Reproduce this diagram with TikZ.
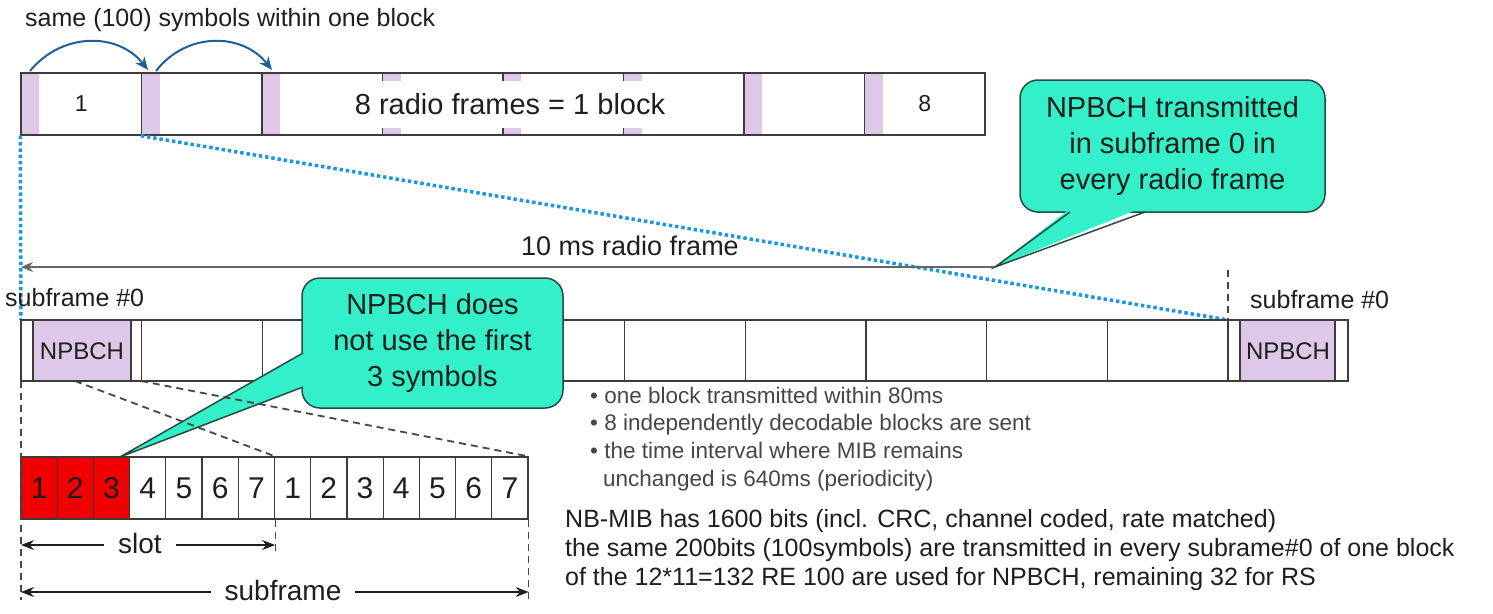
\documentclass[tikz,border=0pt]{standalone}
\usepackage{fontspec}
\setmainfont{Liberation Sans}
\usetikzlibrary{arrows.meta,calc}
\definecolor{lilac}{RGB}{221,200,232}
\definecolor{aqua}{RGB}{52,240,200}
\definecolor{callline}{RGB}{40,75,65}
\definecolor{dotblue}{RGB}{30,150,225}
\definecolor{arcblue}{RGB}{30,95,150}
\definecolor{ink}{RGB}{30,30,30}
\definecolor{softink}{RGB}{70,70,70}
\definecolor{frameline}{RGB}{60,60,60}
\definecolor{symred}{RGB}{240,0,0}
\tikzset{
  lbl/.style={text=ink, inner sep=0pt, font=\fontsize{25}{30}\selectfont},
  cellbox/.style={draw=frameline, line width=1.4pt, inner sep=0pt},
  divider/.style={draw=frameline, line width=1.3pt},
  callbox/.style={draw=callline, fill=aqua, rounded corners=18pt, line width=1.5pt,
    align=center, text=ink, inner sep=0pt, font=\fontsize{29}{36}\selectfont},
  callfill/.style={fill=aqua},
  calledge/.style={draw=callline, line width=1.5pt, line join=miter},
  dotline/.style={draw=dotblue, line width=3.5pt, dash pattern=on 3.5pt off 2.8pt},
  greydash/.style={draw=softink, line width=1.8pt, dash pattern=on 7pt off 5pt},
  arcarrow/.style={draw=arcblue, line width=2pt, -{Stealth[length=13pt,width=11pt]}},
  dimarrow/.style={draw=ink, line width=1.4pt, {Stealth[length=13pt,width=10pt]}-{Stealth[length=13pt,width=10pt]}},
  sym/.style={draw=frameline, line width=1.2pt, minimum width=36.214pt, minimum height=62pt,
    inner sep=0pt, text=ink, font=\fontsize{30}{34}\selectfont},
}
\begin{document}
\begin{tikzpicture}[x=1pt,y=-1pt]
\useasboundingbox (0,0) rectangle (1493,613);

% ---------- top block of 8 radio frames ----------
\node[lbl, anchor=west] (toplbl) at (25,20) {same (100) symbols within one block};
\foreach \k in {0,...,7} {
  \fill[lilac] ({21+120.5*\k},73) rectangle ++(18,62);
}
\foreach \k in {0,...,7} {
  \node[cellbox, minimum width=120.5pt, minimum height=62pt] (f\k) at ({21+120.5*\k+60.25},104) {};
}
\node[fill=white, minimum width=345pt, minimum height=47pt, inner sep=0pt, text=ink,
  font=\fontsize{29}{34}\selectfont] (blk) at (510,104) {8 radio frames = 1 block};
\node[lbl, font=\fontsize{23}{26}\selectfont] (one) at (f0) {1};
\node[lbl, font=\fontsize{23}{26}\selectfont] (eight) at (f7) {8};

\coordinate (a1) at (30,71);
\coordinate (a2) at (148,70);
\coordinate (a3) at (156,71);
\coordinate (a4) at (272,70);
\draw[arcarrow] (a1) .. controls (62,32) and (118,32) .. (a2);
\draw[arcarrow] (a3) .. controls (186,32) and (242,32) .. (a4);

% ---------- zoom lines ----------
\coordinate (r0) at (21,320);
\coordinate (r10) at (1228,320);
\draw[dotline] (f0.south west) -- (r0);
\draw[dotline] (f1.south west) -- (r10);

% ---------- 10 ms radio frame ----------
\coordinate (t1) at (995,267);
\coordinate (t0) at (21,267);
\draw[draw=gray!80!black, line width=1.8pt, -{Stealth[length=12pt,width=10pt]}] (t1) -- (t0);
\node[lbl, font=\fontsize{27}{32}\selectfont] (tenms) at (630,246) {10 ms radio frame};
\coordinate (e0) at (1228,270);
\draw[greydash, line width=1.2pt] (e0) -- (r10);

% ---------- row of subframes ----------
\fill[lilac] (33,320) rectangle (131,381);
\fill[lilac] (1240,320) rectangle (1335,381);
\draw[cellbox] (21,320) rectangle (1348,381);
\foreach \k in {1,...,10} {
  \draw[divider] ({21+120.7*\k},320) -- ++(0,61);
}
\foreach \xx in {33,131,1240,1335} {
  \draw[divider] (\xx,320) -- ++(0,61);
}
\node[lbl, font=\fontsize{24}{28}\selectfont] (np1) at (82,351) {NPBCH};
\node[lbl, font=\fontsize{24}{28}\selectfont] (np2) at (1288,351) {NPBCH};
\node[lbl, anchor=west] (sf1) at (5,298) {subframe \#0};
\node[lbl, anchor=west] (sf2) at (1250,300) {subframe \#0};

% ---------- callout 1 ----------
\node[callbox, minimum width=305pt, minimum height=132pt] (c1) at (1172.5,146)
  {NPBCH transmitted\\in subframe 0 in\\every radio frame};
\coordinate (c1a) at (1070,212);
\coordinate (c1b) at (1145,212);
\fill[callfill] (1076,204) -- (t1) -- (1151,204) -- cycle;
\draw[calledge] (c1a) -- (t1) -- (c1b);

% ---------- symbols of one subframe ----------
\foreach \i in {0,...,13} {
  \pgfmathtruncatemacro\n{mod(\i,7)+1}
  \ifnum\i<3
    \node[sym, fill=symred] (s\i) at ({21+36.214*(\i+0.5)},488) {\n};
  \else
    \node[sym] (s\i) at ({21+36.214*(\i+0.5)},488) {\n};
  \fi
}

% ---------- callout 2 ----------
\node[callbox, minimum width=261pt, minimum height=130pt] (c2) at (432.5,343)
  {NPBCH does\\not use the first\\3 symbols};
\coordinate (tip2) at (120,457);
\coordinate (c2a) at (303,353);
\coordinate (c2b) at (303,387);
\fill[callfill] (312,348) -- (tip2) -- (312,384) -- cycle;
\draw[calledge] (c2a) -- (tip2) -- (c2b);

% ---------- dashed expansion lines ----------
\coordinate (p1) at (75,381);
\coordinate (p2) at (141,381);
\draw[greydash] (p1) -- (s6.north east);
\draw[greydash] (p2) -- (s13.north east);
\coordinate (d0) at (21,381);
\coordinate (d1) at (21,600);
\coordinate (d2) at ($(s6.south east)+(0,36)$);
\coordinate (d3) at ($(s13.south east)+(0,81)$);
\draw[greydash, line width=1.2pt] (d0) -- (d1);
\draw[greydash, line width=1.2pt] (s6.south east) -- (d2);
\draw[greydash, line width=1.2pt] (s13.south east) -- (d3);

% ---------- slot / subframe dimensions ----------
\coordinate (sl0) at (21,545);
\coordinate (sl1) at ($(s6.south east |- sl0)$);
\draw[dimarrow] (sl0) -- (sl1);
\node[lbl, fill=white, inner xsep=14pt, font=\fontsize{28}{32}\selectfont] (slot) at (140,543) {slot};
\coordinate (sb0) at (21,592);
\coordinate (sb1) at ($(s13.south east |- sb0)$);
\draw[dimarrow] (sb0) -- (sb1);
\node[lbl, fill=white, inner xsep=14pt, font=\fontsize{28}{32}\selectfont] (subf) at (283,590) {subframe};

% ---------- notes ----------
\node[lbl, text=softink, anchor=base west, font=\fontsize{22.5}{27}\selectfont] (b1) at (590,403) {• one block transmitted within 80ms};
\node[lbl, text=softink, anchor=base west, font=\fontsize{22.5}{27}\selectfont] (b2) at (590,430) {• 8 independently decodable blocks are sent};
\node[lbl, text=softink, anchor=base west, font=\fontsize{22.5}{27}\selectfont] (b3) at (590,458) {• the time interval where MIB remains};
\node[lbl, text=softink, anchor=base west, font=\fontsize{22.5}{27}\selectfont] (b4) at (603,486) {unchanged is 640ms (periodicity)};

\node[lbl, anchor=base west] (m1) at (565,527) {NB-MIB has 1600 bits (incl. CRC, channel coded, rate matched)};
\node[lbl, anchor=base west] (m2) at (565,556) {the same 200bits (100symbols) are transmitted in every subrame\#0 of one block};
\node[lbl, anchor=base west] (m3) at (565,585) {of the 12*11=132 RE 100 are used for NPBCH, remaining 32 for RS};
\end{tikzpicture}
\end{document}
